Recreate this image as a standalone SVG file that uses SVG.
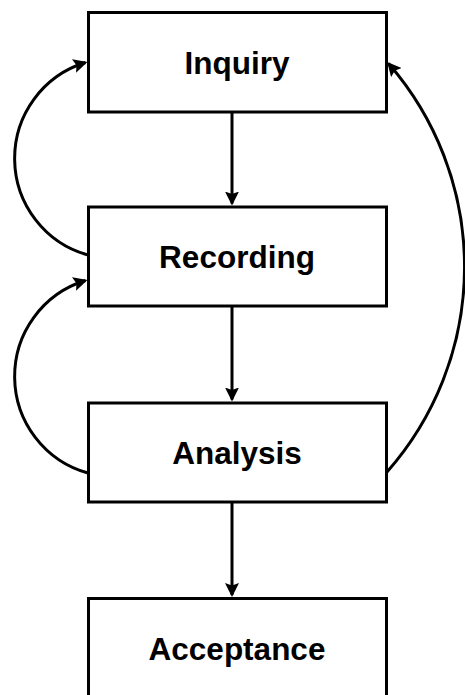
<svg xmlns="http://www.w3.org/2000/svg" width="465" height="695" viewBox="0 0 465 695">
  <style>
    .box { fill: #ffffff; stroke: #000000; stroke-width: 3; }
    .label { font-family: "Liberation Sans", Arial, Helvetica, sans-serif; font-weight: bold; font-size: 31.5px; fill: #000000; text-anchor: middle; }
    .edge { fill: none; stroke: #000000; stroke-width: 3; marker-end: url(#arrow); }
  </style>
  <defs>
    <marker id="arrow" viewBox="0 0 14 14" refX="12" refY="7" markerWidth="14" markerHeight="14" markerUnits="userSpaceOnUse" orient="auto">
      <path d="M0,0 L14,7 L0,14 L2.5,7 z" fill="#000000"/>
    </marker>
  </defs>
  <rect width="465" height="695" fill="#ffffff"/>

  <g id="inquiry">
    <rect class="box" x="88.5" y="12.5" width="298" height="99.5"/>
    <text class="label" x="237" y="73.5">Inquiry</text>
  </g>
  <g id="recording">
    <rect class="box" x="88.5" y="207" width="298" height="99"/>
    <text class="label" x="237" y="268">Recording</text>
  </g>
  <g id="analysis">
    <rect class="box" x="88.5" y="403" width="298" height="99"/>
    <text class="label" x="237" y="464">Analysis</text>
  </g>
  <g id="acceptance">
    <rect class="box" x="88.5" y="598.5" width="298" height="99"/>
    <text class="label" x="237" y="660">Acceptance</text>
  </g>

  <g id="connectors">
    <!-- main flow, top to bottom -->
    <path class="edge" d="M232,112 L232,203.5"/>
    <path class="edge" d="M232,306 L232,399.5"/>
    <path class="edge" d="M232,502 L232,595"/>
    <!-- feedback loops on the left -->
    <path class="edge" d="M88,255 A100.3,100.3 0 0 1 85.5,62.5"/>
    <path class="edge" d="M88,473 A100.3,100.3 0 0 1 85.5,280.5"/>
    <!-- long feedback loop on the right -->
    <path class="edge" d="M387,472 A310,310 0 0 0 388.5,63.5"/>
  </g>
</svg>
